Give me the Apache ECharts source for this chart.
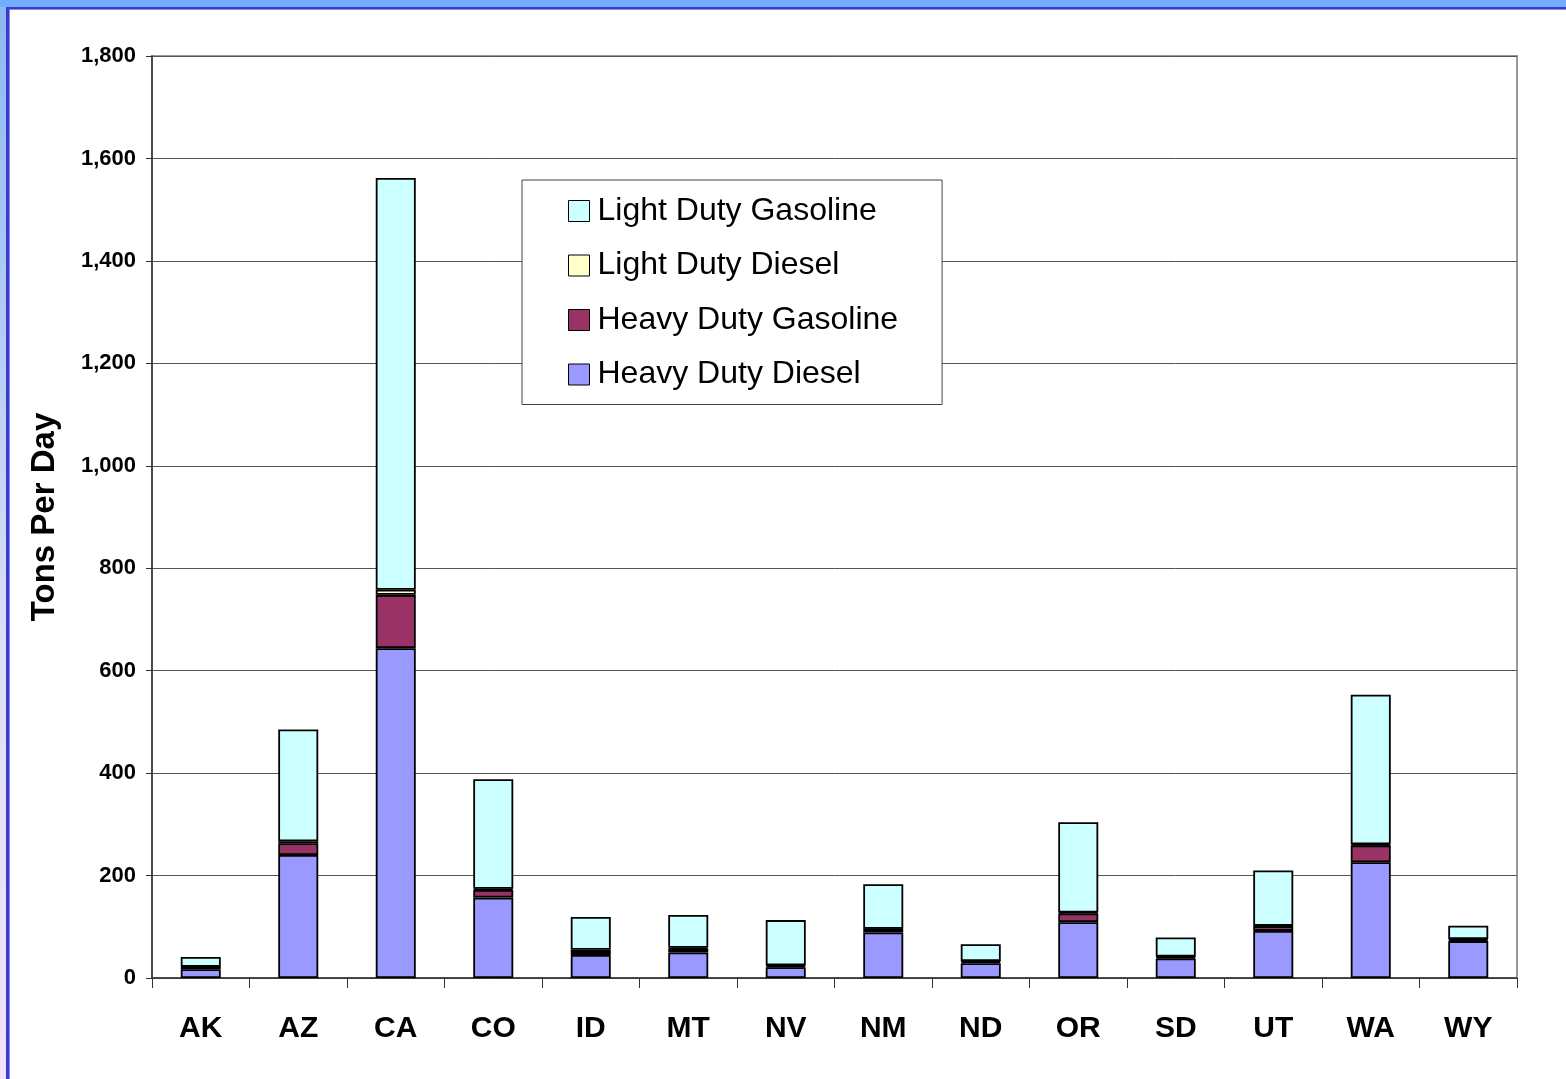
<!DOCTYPE html>
<html>
<head>
<meta charset="utf-8">
<script src="https://cdn.jsdelivr.net/npm/echarts@6/dist/echarts.min.js"></script>
<style>
  html, body { margin: 0; padding: 0; background: #fff; }
  #frameTop { position: absolute; left: 0; top: 0; width: 1566px; height: 7px; background: #74acff; }
  #frameTopLine { position: absolute; left: 0; top: 7px; width: 1566px; height: 2px; background: #3a3acc; }
  #frameTopLine2 { position: absolute; left: 9px; top: 9px; width: 1557px; height: 1px; background: #8888ee; }
  #frameLeft { position: absolute; left: 0; top: 7px; width: 6px; height: 1072px; background: linear-gradient(#8cb8f4, #dce0f4 60%, #f2e2f6); }
  #frameLeftLine { position: absolute; left: 6px; top: 7px; width: 3px; height: 1072px; background: #3a3acc; }
  #frameLeftLine2 { position: absolute; left: 9px; top: 9px; width: 1px; height: 1070px; background: #8888ee; }
  #chart { position: absolute; left: 0; top: 0; width: 1566px; height: 1079px; }
</style>
</head>
<body>
<div id="frameTop"></div>
<div id="frameTopLine"></div>
<div id="frameTopLine2"></div>
<div id="frameLeft"></div>
<div id="frameLeftLine"></div>
<div id="frameLeftLine2"></div>
<div id="chart"></div>
<script>
const categories = ['AK', 'AZ', 'CA', 'CO', 'ID', 'MT', 'NV', 'NM', 'ND', 'OR', 'SD', 'UT', 'WA', 'WY'];
const heavyDutyDiesel    = [17, 240, 644, 157, 45, 50, 21, 89, 29, 109, 38, 92, 226, 72];
const heavyDutyGasoline  = [4, 23, 104, 15, 6, 7, 3, 6, 3, 17, 3, 9, 33, 3];
const lightDutyDiesel    = [1, 4, 10, 2, 4, 2, 1, 1, 1, 2, 1, 1, 2, 1];
const lightDutyGasoline  = [19, 218, 804, 214, 64, 64, 88, 87, 33, 176, 37, 108, 292, 26];
const yTicks = { min: 0, max: 1800, interval: 200 };

const chart = echarts.init(document.getElementById('chart'));
const font = '"Liberation Sans", Arial, sans-serif';
const barBorder = { borderColor: '#000', borderWidth: 1.8 };

function mk(name, data, color) {
  return {
    name: name, type: 'bar', stack: 'total', data: data,
    barWidth: 40,
    itemStyle: Object.assign({ color: color }, barBorder),
    emphasis: { disabled: true }
  };
}

chart.setOption({
  animation: false,
  textStyle: { fontFamily: font },
  grid: {
    left: 152, top: 56, width: 1365, height: 922,
    show: true, borderColor: '#999', borderWidth: 2, backgroundColor: 'transparent'
  },
  legend: {
    orient: 'vertical',
    left: 522, top: 180,
    width: 420,
    padding: [15, 44, 14, 46],
    borderColor: '#444', borderWidth: 1, backgroundColor: '#fff',
    icon: 'rect',
    itemWidth: 21, itemHeight: 21, itemGap: 22.5,
    data: ['Light Duty Gasoline', 'Light Duty Diesel', 'Heavy Duty Gasoline', 'Heavy Duty Diesel'],
    textStyle: { fontSize: 32, color: '#000', fontFamily: font, lineHeight: 32, padding: [0, 0, 0, 3] },
    itemStyle: { borderColor: '#000', borderWidth: 1 }
  },
  xAxis: {
    type: 'category', data: categories,
    axisLine: { lineStyle: { color: '#333', width: 1.5 } },
    axisTick: { show: true, length: 10, lineStyle: { color: '#333', width: 1 } },
    axisLabel: { fontSize: 30, fontWeight: 'bold', color: '#000', margin: 36, fontFamily: font }
  },
  yAxis: {
    type: 'value', min: yTicks.min, max: yTicks.max, interval: yTicks.interval,
    name: 'Tons Per Day', nameLocation: 'middle', nameGap: 91,
    nameTextStyle: { fontSize: 33, fontWeight: 'bold', color: '#000', fontFamily: font },
    axisLine: { show: true, lineStyle: { color: '#333', width: 1.5 } },
    axisTick: { show: true, length: 6, lineStyle: { color: '#333' } },
    splitLine: { lineStyle: { color: '#555', width: 1 } },
    axisLabel: {
      fontSize: 22, fontWeight: 'bold', color: '#000', margin: 16, fontFamily: font,
      formatter: v => v.toLocaleString('en-US')
    }
  },
  series: [
    mk('Heavy Duty Diesel', heavyDutyDiesel, '#9999ff'),
    mk('Heavy Duty Gasoline', heavyDutyGasoline, '#993366'),
    mk('Light Duty Diesel', lightDutyDiesel, '#ffffcc'),
    mk('Light Duty Gasoline', lightDutyGasoline, '#ccffff')
  ]
});
</script>
</body>
</html>
